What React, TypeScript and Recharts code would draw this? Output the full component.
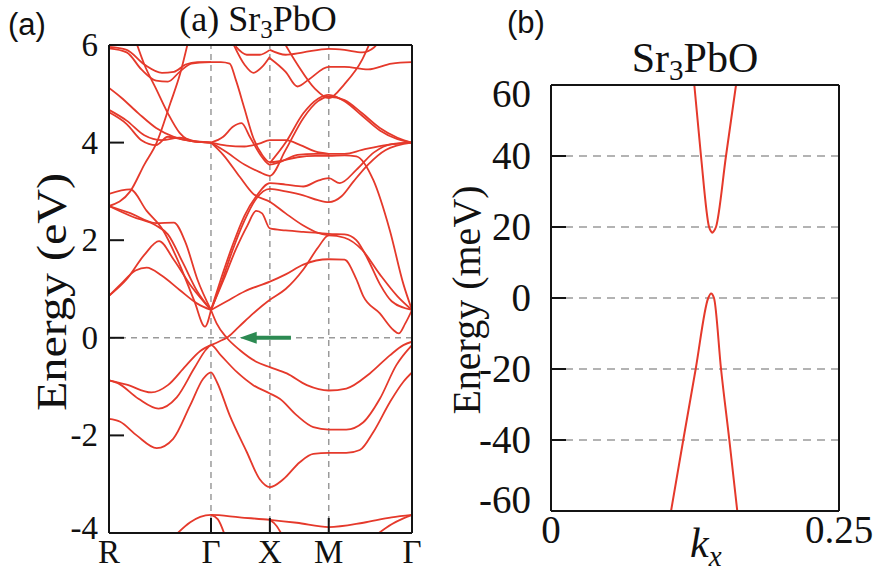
import React from 'react';
import { LineChart, Line, XAxis, YAxis, ReferenceLine } from 'recharts';

const SERIF = 'Liberation Serif';
const SANS = 'Liberation Sans';
const BAND_RED = '#e5392b';
const GRID_GREY = '#9a9a9a';
const AXIS_BLACK = '#141414';
const ARROW_GREEN = '#2c8a52';

// ---------- Panel (a): band structure along R-Γ-X-M-Γ ----------
const kPathTicks = [0, 1.732, 2.732, 3.732, 5.146];
const kPathLabels = ['R', 'Γ', 'X', 'M', 'Γ'];
const kInnerTicks = [1.732, 2.732, 3.732];
const energyTicksA = [-4, -2, 0, 2, 4, 6];
const arrowTip = 2.22;
const arrowTail = 3.09;

// valence bands [k, E(eV)]
const vbCross = [[1.732, 0.57], [1.83, 0.29], [2.0, 0.0], [2.22, -0.25], [2.5, -0.49], [2.732, -0.6], [3.02, -0.73], [3.36, -0.97], [3.732, -1.08], [4.03, -1.04], [4.43, -0.73], [4.77, -0.36], [5.0, -0.15], [5.146, -0.08]];
const vbRise = [[1.732, -0.15], [1.88, -0.07], [2.0, 0.0], [2.2, 0.22], [2.45, 0.5], [2.732, 0.78], [3.0, 1.0], [3.3, 1.4], [3.55, 1.85], [3.732, 2.1], [4.0, 2.05], [4.3, 1.8], [4.6, 1.3], [4.9, 0.85], [5.146, 0.57]];
const vbTop1 = [[0, -0.87], [0.3, -0.96], [0.72, -1.12], [1.0, -0.97], [1.3, -0.58], [1.55, -0.27], [1.732, -0.15]];
const vbTop2 = [[0, -0.87], [0.15, -0.93], [0.5, -1.25], [0.84, -1.45], [1.15, -1.22], [1.45, -0.62], [1.65, -0.24], [1.732, -0.15], [1.9, -0.36], [2.17, -0.7], [2.45, -0.97], [2.732, -1.14], [2.9, -1.25], [3.19, -1.59], [3.47, -1.83], [3.732, -1.88], [4.03, -1.88], [4.32, -1.73], [4.6, -1.25], [4.88, -0.56], [5.146, -0.15]];
const vbDeep = [[0, -1.66], [0.19, -1.72], [0.47, -2.0], [0.81, -2.26], [1.09, -2.07], [1.38, -1.38], [1.6, -0.84], [1.732, -0.71], [1.83, -0.9], [2.05, -1.59], [2.34, -2.34], [2.56, -2.9], [2.732, -3.06], [2.96, -2.9], [3.24, -2.55], [3.47, -2.38], [3.732, -2.36], [4.03, -2.36], [4.26, -2.3], [4.49, -1.93], [4.77, -1.32], [5.0, -0.9], [5.146, -0.71]];
const semicore1 = [[1.15, -4.02], [1.38, -3.78], [1.55, -3.67], [1.732, -3.63], [2.22, -3.68], [2.732, -3.73], [3.19, -3.79], [3.732, -3.88], [4.32, -3.79], [4.8, -3.68], [5.146, -3.63]];
const semicore2 = [[1.732, -3.63], [1.85, -3.72], [1.96, -4.02]];
const semicore3 = [[2.732, -3.73], [2.85, -3.86], [2.93, -4.02]];
const semicore4 = [[4.56, -4.02], [4.8, -3.82], [5.0, -3.7], [5.146, -3.63]];

// conduction bands [k, E(eV)]
const cbR1 = [[0, 0.86], [0.2, 1.1], [0.45, 1.38], [0.64, 1.44], [0.9, 1.27], [1.2, 0.98], [1.5, 0.7], [1.732, 0.57]];
const cbR2 = [[0, 0.86], [0.3, 1.2], [0.6, 1.7], [0.85, 1.98], [1.1, 1.6], [1.4, 1.05], [1.732, 0.57]];
const cbR3 = [[0, 2.7], [0.35, 2.56], [0.8, 2.35], [1.1, 2.36], [1.3, 1.95], [1.5, 1.2], [1.732, 0.57]];
const cbR4 = [[0, 2.7], [0.4, 2.48], [0.8, 2.3], [1.0, 2.12], [1.25, 1.55], [1.5, 0.95], [1.732, 0.57]];
const cbR5 = [[0, 2.95], [0.36, 3.04], [0.64, 2.6], [0.92, 2.2], [1.2, 1.5], [1.45, 0.75], [1.63, 0.23], [1.732, 0.57]];
const cbR6 = [[0, 2.7], [0.36, 3.0], [0.6, 3.55], [0.81, 4.0], [1.04, 4.8], [1.21, 5.42], [1.35, 6.1]];
const cbR7 = [[0, 4.67], [0.3, 4.45], [0.6, 4.15], [0.9, 4.05], [1.2, 4.1], [1.5, 4.02], [1.732, 4.0]];
const cbR8 = [[0, 4.62], [0.3, 4.38], [0.55, 4.05], [0.8, 3.95], [1.0, 4.12], [1.3, 4.05], [1.732, 4.0]];
const cbR9 = [[0, 5.12], [0.2, 4.93], [0.5, 4.6], [0.8, 4.3], [1.1, 4.12], [1.4, 4.03], [1.732, 4.0]];
const cbR10 = [[0.45, 6.1], [0.6, 5.6], [0.8, 5.1], [1.0, 4.6], [1.2, 4.2], [1.45, 4.02], [1.732, 4.0]];
const cbR11 = [[0, 5.96], [0.3, 5.9], [0.6, 5.6], [0.9, 5.43], [1.1, 5.45], [1.3, 5.6], [1.5, 5.65], [1.732, 5.65]];
const cbR12 = [[0, 5.93], [0.3, 5.85], [0.55, 5.5], [0.8, 5.27], [1.0, 5.25], [1.2, 5.45], [1.4, 5.62], [1.732, 5.65]];

const cbG1 = [[1.732, 5.65], [1.9, 5.65], [2.05, 5.62], [2.15, 5.3], [2.3, 4.7], [2.45, 4.1], [2.6, 3.75], [2.732, 3.6], [2.9, 3.62], [3.2, 3.7], [3.5, 3.73], [3.732, 3.73], [4.0, 3.74], [4.2, 3.72], [4.49, 3.23], [4.77, 2.2], [5.0, 1.1], [5.146, 0.57]];
const cbG2 = [[1.732, 4.0], [1.94, 4.12], [2.11, 4.33], [2.25, 4.4], [2.4, 4.1], [2.6, 3.7], [2.732, 3.55], [2.9, 3.6], [3.2, 3.75], [3.5, 3.77], [3.732, 3.77], [4.0, 3.77], [4.3, 3.85], [4.7, 3.95], [5.146, 4.0]];
const cbG3 = [[1.732, 4.0], [2.0, 3.94], [2.3, 3.92], [2.55, 3.98], [2.732, 4.05], [3.0, 4.05], [3.25, 3.95], [3.5, 3.82], [3.732, 3.77]];
const cbG4 = [[1.732, 4.0], [1.94, 3.75], [2.22, 3.3], [2.45, 2.95], [2.732, 2.79], [3.0, 2.55], [3.3, 2.3], [3.55, 2.15], [3.732, 2.1]];
const cbG5 = [[1.732, 4.0], [2.0, 3.8], [2.3, 3.55], [2.55, 3.4], [2.732, 3.32], [3.0, 3.85], [3.3, 4.5], [3.55, 4.85], [3.732, 4.94], [4.0, 4.87], [4.3, 4.6], [4.6, 4.3], [4.9, 4.1], [5.146, 4.0]];
const cbG6 = [[1.732, 0.57], [1.9, 1.2], [2.1, 1.9], [2.3, 2.5], [2.5, 2.9], [2.732, 3.17], [3.0, 3.14], [3.3, 3.1], [3.55, 3.22], [3.732, 3.27], [3.92, 3.17], [4.2, 3.44], [4.5, 3.8], [4.8, 3.97], [5.146, 4.0]];
const cbG7 = [[1.732, 0.57], [1.9, 1.1], [2.1, 1.8], [2.3, 2.4], [2.5, 2.85], [2.732, 3.05], [3.0, 3.0], [3.3, 2.92], [3.55, 2.82], [3.732, 2.78], [3.95, 2.9], [4.15, 3.2], [4.4, 3.55], [4.7, 3.85], [5.146, 4.0]];
const cbG8 = [[1.732, 0.57], [1.95, 1.2], [2.15, 1.8], [2.35, 2.3], [2.5, 2.6], [2.6, 2.55], [2.732, 2.24], [3.0, 2.2], [3.3, 2.17], [3.55, 2.15], [3.732, 2.13], [4.0, 2.12], [4.2, 2.0], [4.4, 1.6], [4.6, 1.1], [4.8, 0.75], [5.146, 0.57]];
const cbG9 = [[1.732, 0.57], [2.0, 0.75], [2.3, 0.95], [2.732, 1.15], [3.0, 1.3], [3.3, 1.5], [3.732, 1.61], [4.0, 1.6], [4.2, 1.2], [4.32, 0.85], [4.6, 0.5], [4.83, 0.16], [4.92, 0.09], [5.03, 0.29], [5.146, 0.57]];
const cbTop1 = [[2.732, 5.9], [3.0, 5.8], [3.3, 5.85], [3.732, 5.92], [4.0, 5.9], [4.3, 5.85], [4.5, 5.95], [4.6, 6.1]];
const cbTop2 = [[2.732, 5.73], [3.0, 5.45], [3.2, 5.15], [3.4, 5.3], [3.732, 5.55], [4.0, 5.55], [4.4, 5.5], [4.8, 5.62], [5.146, 5.65]];
const cbTopV = [[2.95, 6.1], [3.2, 5.6], [3.5, 5.1], [3.732, 4.91], [4.0, 5.2], [4.3, 5.7], [4.45, 6.1]];
const cbDome = [[2.732, 3.58], [3.0, 4.0], [3.3, 4.6], [3.55, 4.9], [3.732, 4.98], [4.0, 4.85], [4.3, 4.55], [4.6, 4.25], [4.9, 4.07], [5.146, 4.0]];
const cbGX1 = [[2.1, 6.05], [2.3, 5.6], [2.45, 5.43], [2.6, 5.55], [2.732, 5.76]];
const cbGX2 = [[2.15, 5.97], [2.34, 5.8], [2.56, 5.8], [2.732, 5.9]];

const bandsA = [vbCross, vbRise, vbTop1, vbTop2, vbDeep, semicore1, semicore2, semicore3, semicore4,
  cbR1, cbR2, cbR3, cbR4, cbR5, cbR6, cbR7, cbR8, cbR9, cbR10, cbR11, cbR12,
  cbG1, cbG2, cbG3, cbG4, cbG5, cbG6, cbG7, cbG8, cbG9, cbTop1, cbTop2, cbTopV, cbDome, cbGX1, cbGX2];

// ---------- Panel (b): zoom near the gap along kx ----------
const kxTicks = [0, 0.25];
const kxTickLabels = ['0', '0.25'];
const energyTicksB = [-60, -40, -20, 0, 20, 40, 60];
const gridLinesB = [-40, -20, 0, 20, 40];
const conductionB = [[0.1244, 60], [0.1302, 40], [0.1372, 20], [0.1388, 18.8], [0.14, 18.4], [0.1413, 18.8], [0.1432, 20], [0.1519, 40], [0.1606, 60]];
const valenceB = [[0.1042, -60], [0.1148, -40], [0.1256, -20], [0.1365, 0], [0.1389, 1.3], [0.1415, 0], [0.1476, -20], [0.1548, -40], [0.1617, -60]];

const pts = (arr: number[][]) => arr.map(([k, e]) => ({ k, e }));

const axisStyle = { stroke: AXIS_BLACK, strokeWidth: 2 };
const serifStyle = { fontFamily: SERIF };

const LeftTickA = (p: any) => {
  const v = p.payload.value;
  const shift = v === -4 ? -5 : 0;
  return (
    <text x={p.x} y={p.y + 11 + shift} textAnchor="end" style={serifStyle} fontSize={33} fill="#111">
      {String(v)}
    </text>
  );
};

const BottomTickA = (p: any) => {
  const i = kPathTicks.indexOf(p.payload.value);
  return (
    <text x={p.x} y={p.y} textAnchor="middle" style={serifStyle} fontSize={33} fill="#111">
      {kPathLabels[i]}
    </text>
  );
};

const LeftTickB = (p: any) => {
  const v = p.payload.value;
  const shift = v === 60 ? 9 : v === -60 ? -11 : 0;
  return (
    <text x={p.x} y={p.y + 13 + shift} textAnchor="end" style={serifStyle} fontSize={39} fill="#111">
      {String(v)}
    </text>
  );
};

const BottomTickB = (p: any) => {
  const i = kxTicks.indexOf(p.payload.value);
  return (
    <text x={p.x} y={p.y} textAnchor="middle" style={serifStyle} fontSize={39} fill="#111">
      {kxTickLabels[i]}
    </text>
  );
};

const ArrowShape = (p: any) => {
  const { x1, y1, x2, y2 } = p;
  if (x1 == null) return null;
  const tipX = Math.min(x1, x2);
  const tailX = Math.max(x1, x2);
  const y = (y1 + y2) / 2;
  const headLen = 17;
  return (
    <g>
      <line x1={tailX} y1={y} x2={tipX + headLen - 2} y2={y} stroke={ARROW_GREEN} strokeWidth={4} />
      <polygon points={`${tipX},${y} ${tipX + headLen},${y - 6} ${tipX + headLen},${y + 6}`} fill={ARROW_GREEN} />
    </g>
  );
};

export default function App() {
  return (
    <div style={{ position: 'absolute', left: 0, top: 0, width: 878, height: 579, background: '#fff', overflow: 'hidden' }}>
      <div style={{ position: 'absolute', left: 0, top: 0 }}>
        <LineChart width={440} height={579} margin={{ top: 44, right: 27, bottom: 45, left: 108 }}>
          <XAxis dataKey="k" type="number" domain={[0, 5.146]} ticks={kPathTicks} interval={0} allowDataOverflow
            height={1} tickSize={-15} tickMargin={45} tick={BottomTickA} axisLine={axisStyle} tickLine={axisStyle} />
          <XAxis xAxisId="top" orientation="top" dataKey="k" type="number" domain={[0, 5.146]} ticks={kInnerTicks} interval={0}
            allowDataOverflow height={1} tickSize={-15} tick={false} axisLine={axisStyle} tickLine={axisStyle} />
          <YAxis type="number" domain={[-4, 6]} ticks={energyTicksA} interval={0} allowDataOverflow width={1}
            tickSize={-15} tickMargin={26} tick={LeftTickA} axisLine={axisStyle} tickLine={axisStyle} />
          <YAxis yAxisId="right" orientation="right" type="number" domain={[-4, 6]} ticks={energyTicksA} interval={0}
            allowDataOverflow width={1} tickSize={-15} tick={false} axisLine={axisStyle} tickLine={axisStyle} />
          {kInnerTicks.map((k) => (
            <ReferenceLine key={'v' + k} x={k} stroke={GRID_GREY} strokeWidth={1.5} strokeDasharray="6 5" />
          ))}
          <ReferenceLine y={0} stroke={GRID_GREY} strokeWidth={1.5} strokeDasharray="6 5" />
          {bandsA.map((b, i) => (
            <Line key={'band' + i} data={pts(b)} dataKey="e" type="monotone" stroke={BAND_RED} strokeWidth={1.8}
              dot={false} activeDot={false} isAnimationActive={false} />
          ))}
          <ReferenceLine segment={[{ x: arrowTip, y: 0 }, { x: arrowTail, y: 0 }]} shape={ArrowShape} />
        </LineChart>
      </div>
      <div style={{ position: 'absolute', left: 440, top: 0 }}>
        <LineChart width={438} height={579} margin={{ top: 84, right: 38, bottom: 67, left: 110 }}>
          <XAxis dataKey="k" type="number" domain={[0, 0.25]} ticks={kxTicks} interval={0} allowDataOverflow
            height={1} tickSize={-15} tickMargin={47} tick={BottomTickB} axisLine={axisStyle} tickLine={false} />
          <XAxis xAxisId="top" orientation="top" dataKey="k" type="number" domain={[0, 0.25]} ticks={kxTicks}
            allowDataOverflow height={1} tick={false} tickLine={false} axisLine={axisStyle} />
          <YAxis type="number" domain={[-60, 60]} ticks={energyTicksB} interval={0} allowDataOverflow width={1}
            tickSize={-15} tickMargin={35} tick={LeftTickB} axisLine={axisStyle} tickLine={axisStyle} />
          <YAxis yAxisId="right" orientation="right" type="number" domain={[-60, 60]} ticks={energyTicksB} interval={0}
            allowDataOverflow width={1} tickSize={-15} tick={false} axisLine={axisStyle} tickLine={axisStyle} />
          {gridLinesB.map((v) => (
            <ReferenceLine key={'h' + v} y={v} stroke={GRID_GREY} strokeWidth={1.5} strokeDasharray="8 6" />
          ))}
          <Line data={pts(conductionB)} dataKey="e" type="monotone" stroke={BAND_RED} strokeWidth={2}
            dot={false} activeDot={false} isAnimationActive={false} />
          <Line data={pts(valenceB)} dataKey="e" type="monotone" stroke={BAND_RED} strokeWidth={2}
            dot={false} activeDot={false} isAnimationActive={false} />
        </LineChart>
      </div>
      <svg width={878} height={579} style={{ position: 'absolute', left: 0, top: 0, pointerEvents: 'none' }}>
        <text x={8} y={35} style={{ fontFamily: SANS }} fontSize={31} fill="#111">(a)</text>
        <text x={258} y={31} textAnchor="middle" style={serifStyle} fontSize={36} fill="#111">
          (a) Sr<tspan fontSize={25} dy={7}>3</tspan><tspan dy={-7}>PbO</tspan>
        </text>
        <text transform="translate(66,292) rotate(-90)" textAnchor="middle" style={serifStyle} fontSize={43}
          textLength={238} lengthAdjust="spacingAndGlyphs" fill="#111">Energy (eV)</text>
        <text x={507} y={33} style={{ fontFamily: SANS }} fontSize={31} fill="#111">(b)</text>
        <text x={695} y={72} textAnchor="middle" style={serifStyle} fontSize={42} fill="#111">
          Sr<tspan fontSize={29} dy={8}>3</tspan><tspan dy={-8}>PbO</tspan>
        </text>
        <text transform="translate(480,300) rotate(-90)" textAnchor="middle" style={serifStyle} fontSize={40} fill="#111">Energy (meV)</text>
        <text x={690} y={557} style={serifStyle} fontStyle="italic" fontSize={42} fill="#111">
          k<tspan fontSize={29} dy={9}>x</tspan>
        </text>
      </svg>
    </div>
  );
}
